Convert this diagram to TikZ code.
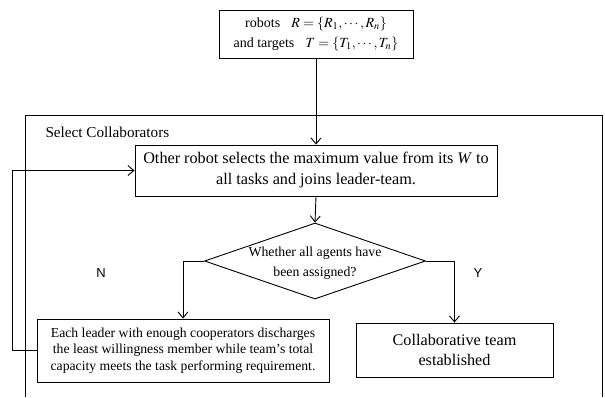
\documentclass[tikz,border=0pt]{standalone}
\usepackage{mathptmx}
\usepackage{fontspec}
\setmainfont{Liberation Serif}
\newfontfamily\labsans{Liberation Sans}
\usetikzlibrary{arrows.meta,shapes.geometric}
\begin{document}
\begin{tikzpicture}[x=1pt,y=-1pt,
  box/.style={draw,line width=0.9pt,inner sep=0pt,align=center},
  arr/.style={draw,line width=0.9pt,-{Straight Barb[length=6pt,width=10pt,line width=0.9pt]}},
  ln/.style={draw,line width=0.9pt}]
\useasboundingbox (0,0) rectangle (605,397);
% outer frame (open at bottom)
\draw[ln] (25,397) -- (25,115) -- (602,115) -- (602,397);
\node[anchor=west,font=\fontsize{15.2}{18}\selectfont] (title) at (42,132) {Select Collaborators};
\node[box,minimum width=194pt,minimum height=48pt,font=\fontsize{14}{20}\selectfont] (top) at (316,34)
  {robots\;\; $R=\{R_1,\cdots,R_n\}$\\ and targets\;\; $T=\{T_1,\cdots,T_n\}$};
\node[box,minimum width=362pt,minimum height=51pt,font=\fontsize{16.2}{21}\selectfont] (sel) at (316,170.5)
  {Other robot selects the maximum value from its \textit{W} to\\ all tasks and joins leader-team.};
\node[draw,line width=0.9pt,diamond,minimum width=221pt,minimum height=76pt,inner sep=0pt] (d) at (315,261) {};
\node[align=center,font=\fontsize{13.8}{19.5}\selectfont] (dt) at (315,263) {Whether all agents have\\ been assigned?};
\node[box,minimum width=292pt,minimum height=63pt,font=\fontsize{13.7}{16.5}\selectfont] (lb) at (183,350.5)
  {Each leader with enough cooperators discharges\\ the least willingness member while team's total\\ capacity meets the task performing requirement.};
\node[box,minimum width=197pt,minimum height=54pt,font=\fontsize{16.2}{20}\selectfont] (rb) at (454.5,350)
  {Collaborative team\\ established};
\node[font=\labsans\fontsize{13}{15}\selectfont] (n) at (101,273) {N};
\node[font=\labsans\fontsize{13}{15}\selectfont] (y) at (478,273) {Y};
\path[arr] (top.south) -- (sel.north);
\path[arr] (sel.south) -- (d.north);
\path[arr] (d.west) -| (lb.north);
\path[arr] (d.east) -| (rb.north);
\path[arr] (lb.west) -- (12,350.5) |- (sel.west);
\end{tikzpicture}
\end{document}
